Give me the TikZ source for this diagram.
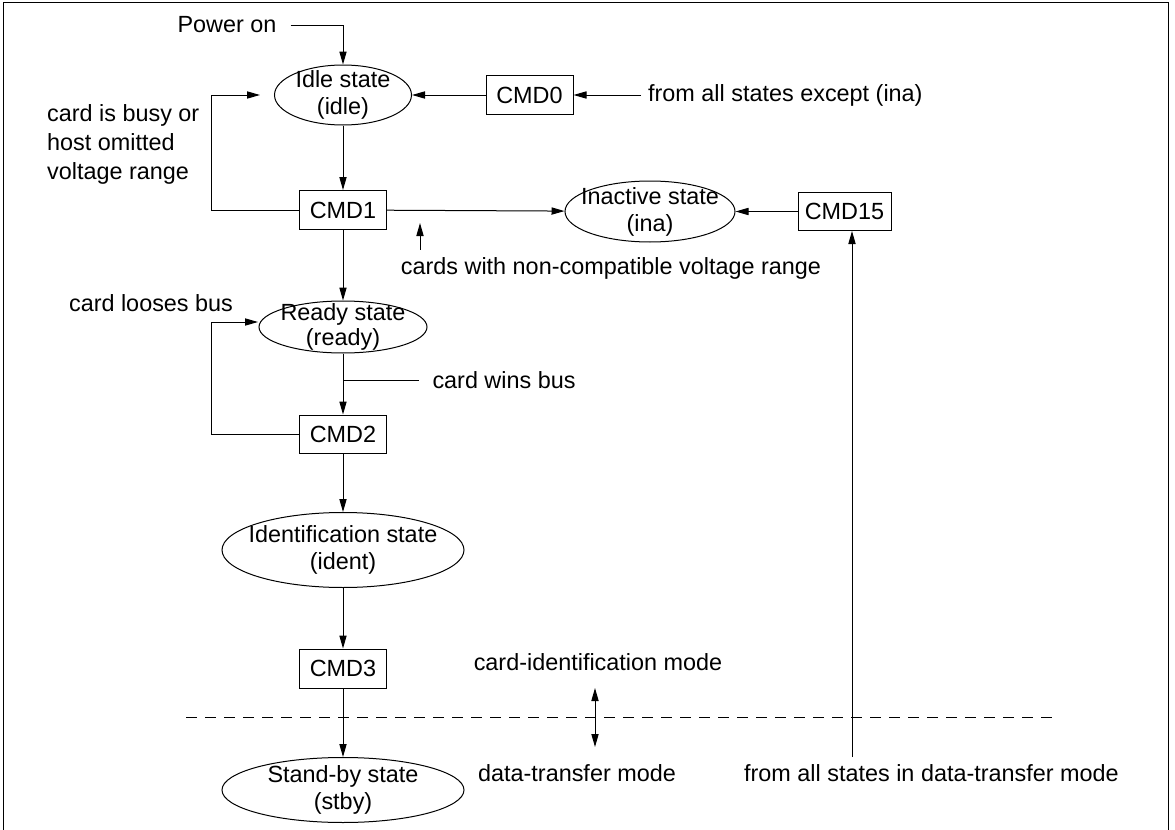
\documentclass[tikz,border=0pt]{standalone}
\usepackage{fontspec}
\setmainfont{Liberation Sans}
\usetikzlibrary{arrows.meta,shapes.geometric}

\begin{document}
\begin{tikzpicture}[x=0.5pt,y=-0.5pt,line width=0.5pt,
    >={Triangle[length=6.5pt,width=3.6pt]},
    font=\fontsize{11.7}{13.5}\selectfont,
    st/.style={draw,ellipse,align=center,inner xsep=-8pt,inner ysep=-4pt},
    cmd/.style={draw,rectangle,inner sep=0pt,minimum height=19.5pt,minimum width=43.5pt}]
                \useasboundingbox (0,0) rectangle (1175,830);
                \draw (3,830) -- (3,2) -- (1168,2) -- (1168,830);
                % states and commands
                \node[st,minimum width=68.5pt,minimum height=30pt](1) at (343,95){Idle state\\(idle)};
                \node[cmd](2) at (529.5,95){CMD0};
                \node[cmd](4) at (343,210){CMD1};
                \node[st,minimum width=85pt,minimum height=30.5pt](5) at (650,211.5){Inactive state\\(ina)};
                \node[cmd,minimum width=46.5pt,minimum height=19pt](7) at (844.5,211.5){CMD15};
                \node[st,minimum width=84pt,minimum height=26pt,font=\fontsize{11.7}{12.5}\selectfont](8) at (343,327){Ready state\\(ready)};
                \node[cmd,minimum height=19pt](10) at (343,434){CMD2};
                \node[st,minimum width=121pt,minimum height=37.5pt](12) at (343,550){Identification state\\(ident)};
                \node[cmd](13) at (343,668.5){CMD3};
                \node[st,minimum width=121pt,minimum height=32.5pt](14) at (343,790){Stand-by state\\(stby)};
                % texts
                \node(0) at (227,25){Power on};
                \node[anchor=west](3) at (641,95){from all states except (ina)};
                \node(6) at (611,268){cards with non-compatible voltage range};
                \node(9) at (151,303){card looses bus};
                \node[anchor=west,inner xsep=6.5pt](11) at (419,380){card wins bus};
                \node[align=left,anchor=west,font=\fontsize{11.7}{14.5}\selectfont](20) at (40,144){card is busy or\\host omitted\\voltage range};
                \node(15) at (598,662){card-identification mode};
                \node(16) at (577,773){data-transfer mode};
                \node[anchor=west](17) at (737,773){from all states in data-transfer mode};
                % free ends
                \coordinate (c1) at (260,95);
                \coordinate (c3) at (420,223);
                \coordinate (c4) at (852,757);
                \coordinate (c5) at (258,322);
                \coordinate (c6) at (595,688);
                \coordinate (c7) at (595,747);
                % connectors
                \draw[->,shorten <=3.5pt] (0) -| (1);
                \draw[->] (3) -- (2);
                \draw[->] (2) -- (1);
                \draw[->] (1) -- (4);
                \draw[->] (4.west) -- ++(-88,0) |- (c1);
                \draw[->] (4) -- (5);
                \draw[->] (7) -- (5);
                \draw[<-] (c3) -- (c3 |- 6.north);
                \draw[->] (c4) -- (c4 |- 7.south);
                \draw[->] (4) -- (8);
                \draw (11.west -| 8.south) -- (11.west);
                \draw[->] (8) -- (10);
                \draw[->] (10.west) -- ++(-88,0) |- (c5);
                \draw[->] (10) -- (12);
                \draw[->] (12) -- (13);
                \draw[->] (13) -- (14);
                \draw[<->] (c6) -- (c7);
                \draw[dash pattern=on 5.5pt off 4pt] (186,717) -- (1059,717);
            \end{tikzpicture}
\end{document}
